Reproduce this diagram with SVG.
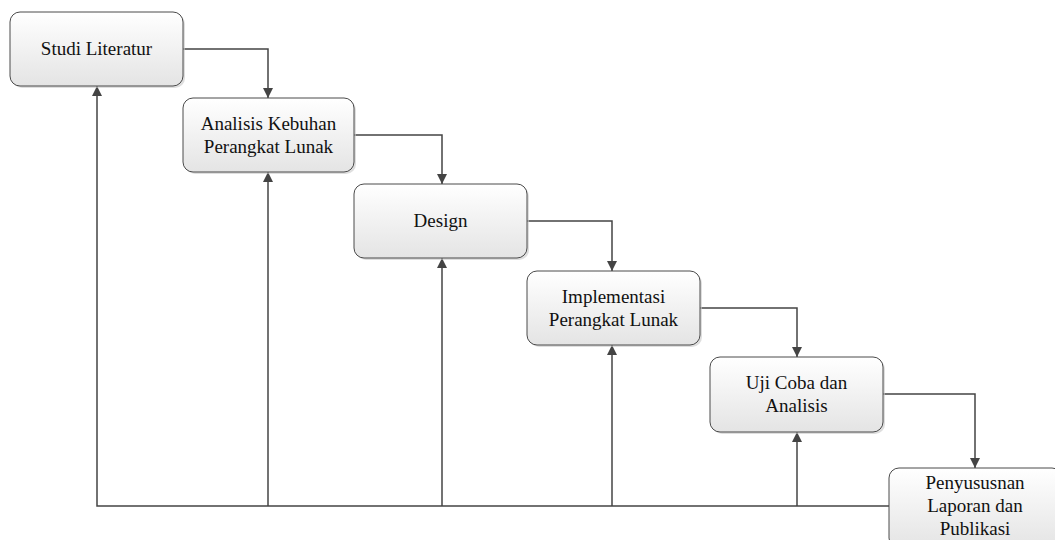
<svg xmlns="http://www.w3.org/2000/svg" width="1055" height="540" viewBox="0 0 1055 540" font-family="Liberation Serif, Tinos, Times New Roman, serif">
<style>
.box{fill:url(#g);stroke:#4a4a4a;stroke-width:1}
.sh{fill:#c8c8c8;stroke:none;opacity:0.6}
.c{fill:none;stroke:#444;stroke-width:1.5}
.t{font-size:19px;fill:#111;text-anchor:middle}
</style>
<defs>
<linearGradient id="g" x1="0" y1="0" x2="0" y2="1">
<stop offset="0" stop-color="#ffffff"/>
<stop offset="1" stop-color="#e4e4e4"/>
</linearGradient>
<marker id="a" viewBox="0 0 10 10" refX="10" refY="5" markerWidth="10" markerHeight="10" markerUnits="userSpaceOnUse" orient="auto">
<path d="M0,0 L10,5 L0,10 z" fill="#444"/>
</marker>
</defs>
<g id="connectors">
<path class="c" d="M183,49 H268 V98" marker-end="url(#a)"/>
<path class="c" d="M354,135 H442 V184" marker-end="url(#a)"/>
<path class="c" d="M527,221 H612 V271" marker-end="url(#a)"/>
<path class="c" d="M700,308 H797 V357" marker-end="url(#a)"/>
<path class="c" d="M883,394 H975 V468" marker-end="url(#a)"/>
<path class="c" d="M889,506 H97 V86" marker-end="url(#a)"/>
<path class="c" d="M268,506 V172" marker-end="url(#a)"/>
<path class="c" d="M442,506 V258" marker-end="url(#a)"/>
<path class="c" d="M612,506 V345" marker-end="url(#a)"/>
<path class="c" d="M797,506 V432" marker-end="url(#a)"/>
</g>
<g id="n1">
<rect class="sh" x="12" y="14" width="173" height="74" rx="10"/>
<rect class="box" x="10" y="12" width="173" height="74" rx="10"/>
<text class="t" font-family="Liberation Serif" x="96.5" y="55">Studi Literatur</text>
</g>
<g id="n2">
<rect class="sh" x="185" y="100" width="171" height="74" rx="10"/>
<rect class="box" x="183" y="98" width="171" height="74" rx="10"/>
<text class="t" font-family="Liberation Serif" x="268.5" y="130">Analisis Kebuhan</text>
<text class="t" font-family="Liberation Serif" x="268.5" y="153">Perangkat Lunak</text>
</g>
<g id="n3">
<rect class="sh" x="356" y="186" width="173" height="74" rx="10"/>
<rect class="box" x="354" y="184" width="173" height="74" rx="10"/>
<text class="t" font-family="Liberation Serif" x="440.5" y="227">Design</text>
</g>
<g id="n4">
<rect class="sh" x="529" y="273" width="173" height="74" rx="10"/>
<rect class="box" x="527" y="271" width="173" height="74" rx="10"/>
<text class="t" font-family="Liberation Serif" x="613.5" y="303">Implementasi</text>
<text class="t" font-family="Liberation Serif" x="613.5" y="326">Perangkat Lunak</text>
</g>
<g id="n5">
<rect class="sh" x="712" y="359" width="173" height="75" rx="10"/>
<rect class="box" x="710" y="357" width="173" height="75" rx="10"/>
<text class="t" font-family="Liberation Serif" x="796.5" y="389">Uji Coba dan</text>
<text class="t" font-family="Liberation Serif" x="796.5" y="412">Analisis</text>
</g>
<g id="n6">
<rect class="sh" x="891" y="470" width="173" height="80" rx="10"/>
<rect class="box" x="889" y="468" width="173" height="80" rx="10"/>
<text class="t" font-family="Liberation Serif" x="975" y="489">Penyususnan</text>
<text class="t" font-family="Liberation Serif" x="975" y="512">Laporan dan</text>
<text class="t" font-family="Liberation Serif" x="975" y="535">Publikasi</text>
</g>
</svg>
